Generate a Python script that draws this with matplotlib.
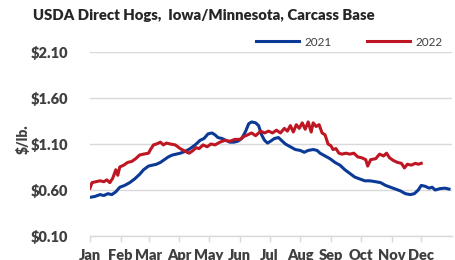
import matplotlib
matplotlib.use("Agg")
import matplotlib.pyplot as plt

# Day of year and price ($/lb.)
days_2021 = [1, 6, 11, 15, 19, 23, 27, 31, 36, 41, 46, 51, 55, 60, 64, 68, 72, 76, 80, 84,
             88, 92, 97, 102, 107, 112, 116, 120, 124, 127, 130, 134, 138, 142, 146, 150,
             154, 158, 161, 164, 168, 171, 174, 177, 180, 183, 187, 191, 194, 198, 203, 208,
             213, 217, 221, 226, 230, 233, 238, 243, 248, 253, 258, 263, 268, 273, 278, 283,
             289, 294, 299, 304, 309, 314, 319, 324, 328, 332, 335, 339, 343, 346, 349, 354,
             359, 363]
price_2021 = [0.52, 0.53, 0.55, 0.54, 0.56, 0.55, 0.58, 0.63, 0.65, 0.68, 0.72, 0.77, 0.82,
              0.86, 0.87, 0.88, 0.90, 0.93, 0.96, 0.98, 0.99, 1.00, 1.02, 1.05, 1.09, 1.14,
              1.16, 1.21, 1.22, 1.20, 1.17, 1.16, 1.14, 1.12, 1.12, 1.13, 1.16, 1.24, 1.32,
              1.34, 1.33, 1.30, 1.20, 1.14, 1.11, 1.13, 1.16, 1.17, 1.14, 1.10, 1.07, 1.04,
              1.03, 1.01, 1.03, 1.04, 1.03, 1.00, 0.97, 0.94, 0.90, 0.87, 0.82, 0.78, 0.74,
              0.72, 0.70, 0.70, 0.69, 0.68, 0.65, 0.63, 0.61, 0.59, 0.56, 0.55, 0.56, 0.60,
              0.65, 0.64, 0.62, 0.63, 0.60, 0.615, 0.62, 0.61]

days_2022 = [1, 3, 7, 11, 15, 18, 21, 24, 27, 29, 31, 35, 39, 43, 47, 51, 55, 60, 62, 65,
             68, 72, 75, 78, 82, 87, 92, 97, 101, 105, 108, 111, 115, 119, 123, 127, 132,
             137, 142, 147, 152, 156, 160, 164, 168, 173, 177, 181, 185, 189, 193, 197, 200,
             203, 206, 209, 212, 215, 218, 221, 224, 226, 229, 232, 235, 238, 241, 244, 246,
             249, 252, 255, 259, 263, 267, 271, 275, 279, 281, 284, 289, 293, 297, 300, 303,
             307, 311, 315, 318, 321, 325, 329, 332, 335]
price_2022 = [0.62, 0.68, 0.69, 0.70, 0.69, 0.71, 0.68, 0.73, 0.82, 0.76, 0.85, 0.87, 0.90,
              0.91, 0.94, 0.98, 0.99, 1.00, 1.04, 1.09, 1.10, 1.12, 1.09, 1.11, 1.10, 1.09,
              1.05, 1.02, 1.00, 1.03, 1.06, 1.05, 1.09, 1.07, 1.10, 1.09, 1.12, 1.14, 1.13,
              1.15, 1.15, 1.18, 1.20, 1.22, 1.19, 1.24, 1.22, 1.24, 1.22, 1.25, 1.22, 1.27,
              1.24, 1.30, 1.23, 1.31, 1.27, 1.33, 1.26, 1.34, 1.23, 1.33, 1.29, 1.31, 1.22,
              1.20, 1.10, 1.08, 1.04, 1.05, 1.00, 0.99, 1.00, 0.99, 1.00, 0.96, 0.95, 0.93,
              0.86, 0.93, 0.94, 0.99, 0.97, 1.00, 0.95, 0.92, 0.90, 0.89, 0.84, 0.88, 0.87,
              0.89, 0.88, 0.89]

month_days = [1, 32, 60, 91, 121, 152, 182, 213, 244, 274, 305, 335]
month_labels = ["Jan", "Feb", "Mar", "Apr", "May", "Jun", "Jul", "Aug", "Sep", "Oct", "Nov", "Dec"]
y_ticks = [0.10, 0.60, 1.10, 1.60, 2.10]
y_labels = ["$0.10", "$0.60", "$1.10", "$1.60", "$2.10"]

plt.rcParams['font.family'] = ['Lato', 'DejaVu Sans']

fig = plt.figure(figsize=(4.56, 2.60), dpi=100)
ax = fig.add_axes([90/456, 1-236/260, (452-90)/456, (236-52)/260])

ax.plot(days_2021, price_2021, color='#0b3a96', lw=2.2, label='2021', solid_joinstyle='round')
ax.plot(days_2022, price_2022, color='#be1622', lw=2.2, label='2022', solid_joinstyle='round')

ax.set_xlim(1, 366)
ax.set_ylim(0.10, 2.10)
ax.set_yticks(y_ticks)
ax.set_yticklabels(y_labels)
ax.set_xticks(month_days)
ax.set_xticklabels(month_labels)
ax.grid(axis='y', color='#d9d9d9', lw=1.0)
ax.set_axisbelow(True)
for s in ['top', 'right', 'left']:
    ax.spines[s].set_visible(False)
ax.spines['bottom'].set_color('#d9d9d9')
ax.spines['bottom'].set_linewidth(1.0)
ax.tick_params(axis='y', length=0, pad=16, labelsize=10.5, labelcolor='#404040')
ax.tick_params(axis='x', length=4, width=1, color='#d9d9d9', pad=5, labelsize=10.5, labelcolor='#404040')
for lbl in ax.get_xticklabels() + ax.get_yticklabels():
    lbl.set_fontweight('heavy')

fig.text(23/456, 1-139/260, "$/lb.", rotation=90, ha='center', va='center',
         fontsize=10, fontweight='heavy', color='#404040')
fig.text(33/456, 1-16/260, "USDA Direct Hogs,  Iowa/Minnesota, Carcass Base", ha='left', va='center',
         fontsize=10.7, fontweight='heavy', color='#262626')

leg = ax.legend(loc='center', bbox_to_anchor=(349/456, 1-42/260), bbox_transform=fig.transFigure,
                ncol=2, frameon=False, fontsize=8.5, handlelength=3.7, columnspacing=3.0,
                handletextpad=0.4, borderaxespad=0)
for t in leg.get_texts():
    t.set_color('#404040')

fig.savefig("out.png", dpi=100)
